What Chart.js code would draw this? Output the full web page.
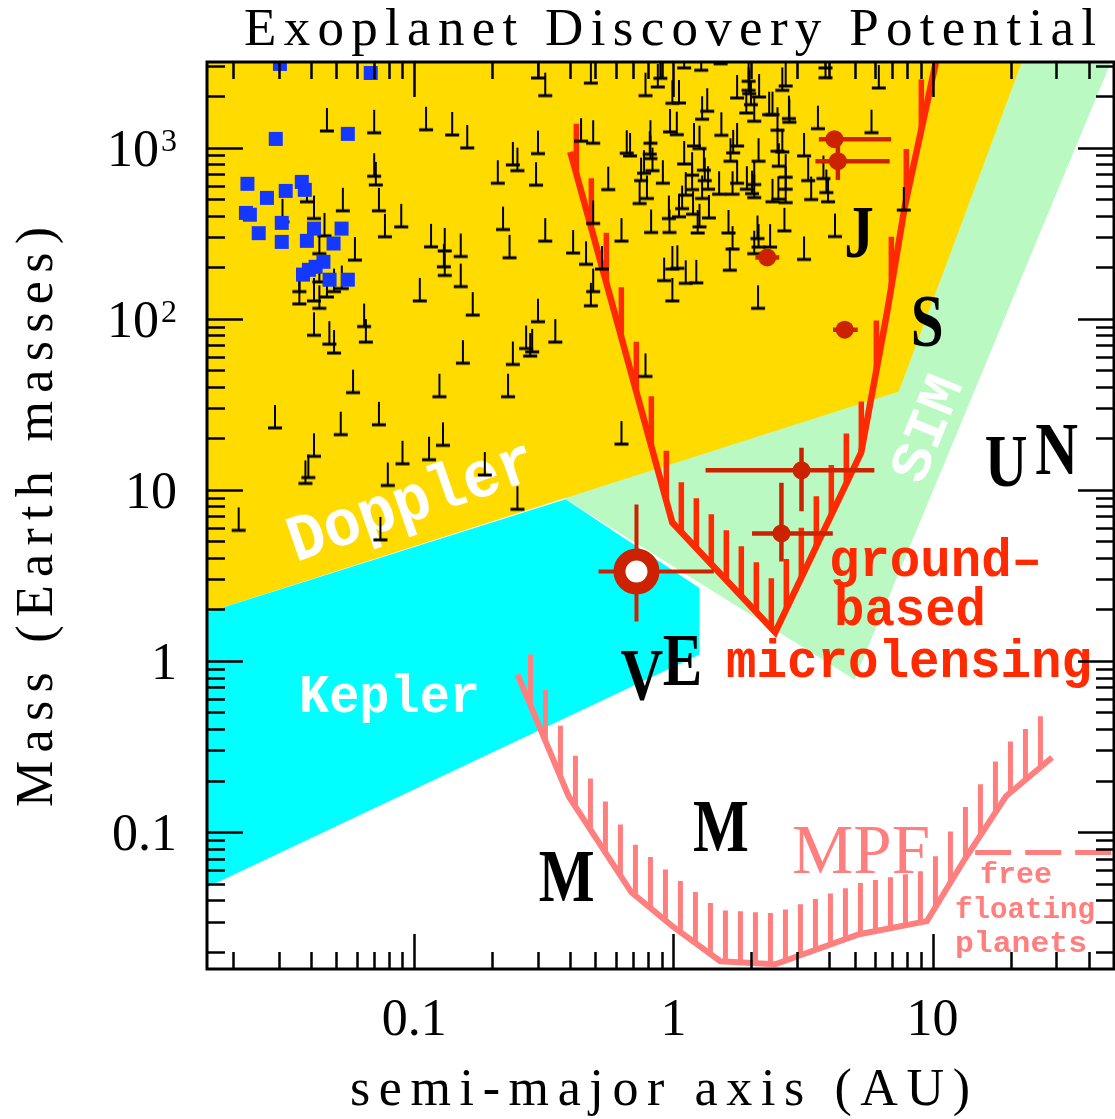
<!DOCTYPE html>
<html>
<head>
<meta charset="utf-8">
<title>Exoplanet Discovery Potential</title>
<script src="https://cdn.jsdelivr.net/npm/chart.js@4.4.1/dist/chart.umd.min.js"></script>
<style>
  html, body { margin: 0; padding: 0; background: #fff; }
  #wrap { position: relative; width: 1115px; height: 1119px; }
</style>
</head>
<body>
<div id="wrap"><canvas id="discovery" width="1115" height="1119"></canvas></div>
<script>
// ── Axes ──
const xRange = [0.01585, 50.12];
const yRange = [0.01585, 3162];
const xTickValues = [0.1, 1, 10];
const xTickLabels = ['0.1', '1', '10'];
const yTickValues = [0.1, 1, 10, 100, 1000];
const yTickLabels = ['0.1', '1', '10', '10', '10'];
const yTickPowers = ['', '', '', '2', '3'];

// ── Doppler planets (a in AU, M sin i in Earth masses) ──
const rvA = [
  0.046, 0.070, 0.111, 0.070, 0.071, 0.0385, 0.041, 0.053, 0.073, 0.089,
  0.077, 0.116, 0.031, 0.045, 0.043, 0.059, 0.036, 0.036, 0.041, 0.043,
  0.046, 0.049, 0.0525, 0.043, 0.105, 0.041, 0.047, 0.049, 0.064, 0.065,
  0.058, 0.029, 0.052, 0.073, 0.041, 0.039, 0.038, 0.079, 0.090, 0.114,
  0.125, 0.129, 0.021, 0.074, 0.168, 0.30, 0.48, 0.35, 0.27, 0.285,
  0.28, 0.154, 0.24, 0.23, 0.187, 0.25, 0.63, 0.78, 0.99, 0.30,
  0.32, 0.48, 0.78, 0.87, 0.89, 0.14, 0.16, 0.24, 0.25, 0.30,
  0.21, 0.295, 0.44, 0.49, 0.56, 0.66, 0.68, 0.815, 0.81, 0.815,
  0.77, 0.75, 0.83, 0.91, 0.79, 0.74, 0.97, 0.99, 0.22, 0.233,
  0.32, 0.41, 0.46, 0.49, 0.63, 0.53, 0.49, 0.82, 0.96, 0.965,
  0.92, 0.99, 0.131, 0.151, 0.130, 0.131, 0.151, 1.10, 1.28, 1.52,
  1.95, 1.95, 1.96, 2.14, 1.99, 1.91, 2.05, 1.76, 1.05, 1.35,
  1.29, 2.34, 2.41, 2.71, 2.63, 3.86, 3.86, 6.2, 2.79, 2.80,
  3.61, 5.81, 1.03, 1.53, 1.76, 1.20, 1.26, 1.70, 1.66, 2.13,
  2.52, 2.52, 2.63, 2.55, 3.19, 2.71, 2.71, 2.71, 3.31, 3.79,
  3.89, 3.95, 3.40, 2.41, 2.54, 1.92, 2.05, 2.01, 2.05, 1.76,
  1.69, 1.50, 1.31, 1.32, 1.36, 1.29, 1.37, 1.10, 1.18, 1.18,
  1.115, 1.08, 1.19, 1.05, 1.26, 1.24, 1.63, 1.69, 1.65, 2.11,
  2.13, 2.05, 2.36, 2.68, 3.19, 4.20, 1.035, 1.115, 1.225, 2.12,
  7.74
];
const rvM = [
  1250, 1220, 1270, 680, 605, 482, 385, 427, 427, 344,
  301, 263, 368, 305, 240, 220, 144, 122, 127, 115,
  134, 144, 150, 164, 127, 80, 71, 63, 90, 73,
  37, 23, 21, 24, 15.7, 11.8, 10.9, 10.6, 14.2, 15,
  35, 18.2, 5.8, 5.1, 105, 96, 119, 73, 67, 64,
  60.5, 55, 54, 35, 12.2, 7.7, 18.5, 46, 127, 2550,
  2010, 2380, 2010, 2260, 2540, 1185, 995, 792, 733, 922,
  619, 603, 1090, 1060, 568, 927, 894, 1060, 915, 862,
  708, 641, 733, 619, 504, 471, 1234, 1815, 332, 227,
  284, 242, 208, 360, 284, 195, 144, 319, 385, 319,
  167, 195, 249, 231, 201, 179, 154, 2920, 2830, 3090,
  2440, 2160, 2065, 1976, 1781, 1593, 1425, 1949, 1822, 1630,
  1464, 1557, 1557, 2290, 2160, 2920, 2560, 2230, 1476, 1406,
  1290, 1222, 1190, 1180, 1022, 1022, 986, 931, 832, 832,
  1263, 952, 943, 778, 894, 671, 571, 477, 641, 659,
  546, 482, 497, 482, 499, 571, 608, 538, 510, 619,
  534, 534, 737, 641, 571, 504, 388, 802, 690, 568,
  527, 440, 408, 394, 344, 317, 317, 255, 192, 294,
  262, 240, 262, 326, 222, 302, 197, 161, 162, 115,
  431
];

// ── Transiting planets ──
const transitA = [0.0303, 0.0679, 0.0292, 0.0554, 0.0227, 0.0270, 0.0319, 0.0368, 0.0378, 0.0224,
  0.0232, 0.0251, 0.0308, 0.0308, 0.0410, 0.0385, 0.0488, 0.0524, 0.0446, 0.0416,
  0.0392, 0.0372, 0.0471, 0.0554];
const transitM = [3080, 2727, 1123, 1202, 614, 508, 558, 630, 566, 415,
  405, 316, 363, 281, 336, 285, 275, 336, 215, 201,
  193, 181, 169, 169];

// ── Microlensing planets ──
const mlA = [4.18, 4.31, 2.30, 4.58, 3.12, 2.61];
const mlM = [1119, 832, 228, 86.2, 13.0, 5.56];
const mlALo = [3.64, 3.53, 2.07, 4.13, 1.33, 2.01];
const mlAHi = [6.92, 6.83, 2.56, 5.14, 5.96, 4.12];
const mlMLo = [null, 647, null, null, 7.5, 3.81];
const mlMHi = [null, 1070, null, null, 17.6, 11.0];

// lowest-mass microlensing planet (open symbol)
const coldA = [0.72];
const coldM = [3.33];
const coldALo = [0.514];
const coldAHi = [1.43];
const coldMLo = [1.70];
const coldMHi = [8.2];

// ── Solar system ──
const solarNames = ['M', 'V', 'E', 'M', 'J', 'S', 'U', 'N'];
const solarA = [0.387, 0.723, 1.0, 1.524, 5.20, 9.54, 19.2, 30.1];
const solarM = [0.055, 0.815, 1.0, 0.107, 318, 95.2, 14.5, 17.1];
const solarNudge = [0, 5, 9, 0, 0, 0, 0, 0];   // label shift, px

// ── Sensitivity regions ──
const dopplerRegionA = [0.01585, 7.4, 22.1, 0.01585];
const dopplerRegionM = [1.92, 37.5, 3162, 3162];
const keplerRegionA = [0.01585, 0.383, 1.26, 1.26, 0.01585];
const keplerRegionM = [1.92, 8.8, 2.67, 1.09, 0.0476];
const simRegionA = [0.383, 5.0, 48.8, 0.383];
const simRegionM = [8.8, 0.78, 3162, 3162];

// ── Microlensing sensitivity curves ──
const groundA = [0.40, 0.99, 2.47, 5.30, 6.68, 7.83, 10.3];
const groundM = [943, 6.44, 1.47, 16.5, 110, 463, 3162];
const mpfA = [0.250, 0.394, 0.688, 0.99, 1.517, 2.47, 5.21, 9.51, 13.3, 19.2, 28.9];
const mpfM = [0.834, 0.162, 0.0445, 0.0282, 0.0176, 0.0169, 0.0253, 0.0302, 0.0694, 0.162, 0.273];
const freeFloatA = [14.6, 50.12];
const freeFloatM = [0.076, 0.076];

// ── Colours ──
const YELLOW = '#ffdb00';
const CYAN = '#00ffff';
const GREEN = '#bbf9c3';
const SALMON = '#ff7f7f';
const RED = '#ff2a00';
const DARKRED = '#cc2200';
const BLUE = '#1438ff';
const SERIF = '"Liberation Serif", "DejaVu Serif", serif';
const MONO = '"Liberation Mono", "DejaVu Sans Mono", monospace';

const pts = (xs, ys) => xs.map((x, i) => ({ x, y: ys[i] }));

// ⊥ glyph: bar at the value, stem pointing up
function makeLimitGlyph() {
  const c = document.createElement('canvas');
  c.width = 16; c.height = 52;
  const g = c.getContext('2d');
  g.fillStyle = '#000';
  g.fillRect(1, 24.5, 14, 3);
  g.fillRect(7, 3, 2, 23);
  return c;
}

// ── Text helpers ──
function drawFitted(ctx, text, x, y, font, width, angle = 0, center = false) {
  ctx.save();
  ctx.font = font;
  const w0 = ctx.measureText(text).width;
  ctx.translate(x, y);
  ctx.rotate(angle);
  ctx.scale(width / w0, 1);
  ctx.textAlign = 'left';
  ctx.textBaseline = 'alphabetic';
  ctx.fillText(text, center ? -w0 / 2 : 0, 0);
  ctx.restore();
}

function drawSpaced(ctx, text, x, y, font, width, angle = 0) {
  ctx.save();
  ctx.font = font;
  ctx.textAlign = 'left';
  ctx.textBaseline = 'alphabetic';
  const chars = [...text];
  const ws = chars.map(ch => ctx.measureText(ch).width);
  const total = ws.reduce((s, w) => s + w, 0);
  const gap = (width - total) / (chars.length - 1);
  ctx.translate(x, y);
  ctx.rotate(angle);
  let cx = 0;
  chars.forEach((ch, i) => { ctx.fillText(ch, cx, 0); cx += ws[i] + gap; });
  ctx.restore();
}

function logTicks(min, max) {
  const out = [];
  for (let d = Math.floor(Math.log10(min)); d <= Math.ceil(Math.log10(max)); d++) {
    for (let k = 1; k <= 9; k++) {
      const v = k * Math.pow(10, d);
      if (v > min * 1.001 && v < max * 0.999) out.push({ v, major: k === 1 });
    }
  }
  return out;
}

const deg = Math.PI / 180;

// ── Plugin: hatching, error bars, labels, frame ──
const decorPlugin = {
  id: 'decor',
  beforeDatasetDraw(chart, args) {
    const ds = chart.data.datasets[args.index];
    if (!ds.errorBars) return;
    const { ctx, scales: { x, y } } = chart;
    const e = ds.errorBars;
    ctx.save();
    ctx.strokeStyle = e.color;
    ctx.lineWidth = e.width;
    ds.data.forEach((p, i) => {
      const px = x.getPixelForValue(p.x), py = y.getPixelForValue(p.y);
      ctx.beginPath();
      if (e.aLo[i] != null) {
        ctx.moveTo(x.getPixelForValue(e.aLo[i]), py);
        ctx.lineTo(x.getPixelForValue(e.aHi[i]), py);
      }
      if (e.mLo[i] != null) {
        ctx.moveTo(px, y.getPixelForValue(e.mLo[i]));
        ctx.lineTo(px, y.getPixelForValue(e.mHi[i]));
      }
      ctx.stroke();
    });
    ctx.restore();
  },
  afterDatasetDraw(chart, args) {
    const ds = chart.data.datasets[args.index];
    const { ctx, chartArea: area } = chart;
    if (ds.hatch) {
      const h = ds.hatch;
      const p = args.meta.data;
      ctx.save();
      ctx.beginPath();
      ctx.rect(area.left, area.top, area.right - area.left, area.bottom - area.top);
      ctx.clip();
      ctx.strokeStyle = ds.borderColor;
      ctx.lineWidth = h.width;
      ctx.beginPath();
      let xh = p[0].x + h.offset;
      for (let i = 0; i < p.length - 1; i++) {
        const a = p[i], b = p[i + 1];
        while (xh <= b.x) {
          const yy = a.y + (xh - a.x) / (b.x - a.x) * (b.y - a.y);
          ctx.moveTo(xh, yy);
          ctx.lineTo(xh, yy - h.length);
          xh += h.spacing;
        }
      }
      ctx.stroke();
      ctx.restore();
    }
    if (ds.regionLabels) {
      ctx.save();
      ctx.beginPath();
      ctx.rect(area.left, area.top, area.right - area.left, area.bottom - area.top);
      ctx.clip();
      ctx.fillStyle = '#fff';
      drawFitted(ctx, 'Doppler', 296, 562, 'bold 66px ' + MONO, 258, -19.2 * deg);
      drawFitted(ctx, 'Kepler', 299, 712, 'bold 54px ' + MONO, 181);
      drawFitted(ctx, 'SIM', 922, 486, 'bold 56px ' + MONO, 110, -68 * deg);
      ctx.restore();
    }
  },
  afterDatasetsDraw(chart) {
    const { ctx, chartArea: area, scales: { x, y } } = chart;

    // planet letters
    ctx.save();
    ctx.fillStyle = '#000';
    solarNames.forEach((n, i) => {
      const px = x.getPixelForValue(solarA[i]) + solarNudge[i];
      const py = y.getPixelForValue(solarM[i]);
      ctx.save();
      ctx.font = 'bold 74px ' + SERIF;
      const w = ctx.measureText(n).width;
      ctx.translate(px, py + 24);
      ctx.scale(0.8, 1);
      ctx.fillText(n, -w / 2, 0);
      ctx.restore();
    });

    // annotations
    ctx.fillStyle = RED;
    drawFitted(ctx, 'ground\u2013', 829, 576, 'bold 54px ' + MONO, 213);
    drawFitted(ctx, 'based', 834, 625, 'bold 54px ' + MONO, 152);
    drawFitted(ctx, 'microlensing', 726, 677, 'bold 54px ' + MONO, 366);
    ctx.fillStyle = SALMON;
    drawFitted(ctx, 'MPF', 792, 873, '70px ' + SERIF, 138);
    drawFitted(ctx, 'free', 980, 883, 'bold 30px ' + MONO, 72);
    drawFitted(ctx, 'floating', 955, 918, 'bold 30px ' + MONO, 140);
    drawFitted(ctx, 'planets', 955, 952, 'bold 30px ' + MONO, 132);
    ctx.restore();

    // frame and inward ticks on all four sides
    ctx.save();
    ctx.strokeStyle = '#000';
    ctx.lineWidth = 2.5;
    ctx.beginPath();
    logTicks(xRange[0], xRange[1]).forEach(t => {
      const px = Math.round(x.getPixelForValue(t.v)) + 0.5;
      const len = t.major ? 35 : 17;
      ctx.moveTo(px, area.bottom); ctx.lineTo(px, area.bottom - len);
      ctx.moveTo(px, area.top); ctx.lineTo(px, area.top + len);
    });
    logTicks(yRange[0], yRange[1]).forEach(t => {
      const py = Math.round(y.getPixelForValue(t.v)) + 0.5;
      const len = t.major ? 36 : 18;
      ctx.moveTo(area.left, py); ctx.lineTo(area.left + len, py);
      ctx.moveTo(area.right, py); ctx.lineTo(area.right - len, py);
    });
    ctx.stroke();
    ctx.lineWidth = 3;
    ctx.strokeRect(area.left, area.top, area.right - area.left, area.bottom - area.top);

    // tick labels
    ctx.fillStyle = '#000';
    ctx.font = '52px ' + SERIF;
    ctx.textAlign = 'center';
    ctx.textBaseline = 'alphabetic';
    xTickValues.forEach((v, i) => {
      ctx.fillText(xTickLabels[i], x.getPixelForValue(v), 1035);
    });
    yTickValues.forEach((v, i) => {
      const py = y.getPixelForValue(v);
      let right = 177;
      ctx.textAlign = 'right';
      if (yTickPowers[i]) {
        ctx.font = '32px ' + SERIF;
        ctx.fillText(yTickPowers[i], right, py + 3);
        right -= ctx.measureText(yTickPowers[i]).width + 2;
      }
      ctx.font = '52px ' + SERIF;
      ctx.fillText(yTickLabels[i], right, py + 18);
    });

    // titles
    drawSpaced(ctx, 'Exoplanet Discovery Potential', 244, 45, '53px ' + SERIF, 852);
    drawSpaced(ctx, 'semi-major axis (AU)', 350, 1105, '52px ' + SERIF, 620);
    drawSpaced(ctx, 'Mass (Earth masses)', 52, 807, '52px ' + SERIF, 580, -90 * deg);
    ctx.restore();
  }
};

// ── Chart ──
const polygon = (xs, ys, color, order, extra = {}) => Object.assign({
  type: 'line', data: pts(xs, ys), fill: 'shape', backgroundColor: color,
  borderColor: 'rgba(0,0,0,0)', borderWidth: 0, pointRadius: 0, tension: 0, order, clip: 0
}, extra);

new Chart(document.getElementById('discovery'), {
  type: 'scatter',
  data: {
    datasets: [
      polygon(simRegionA, simRegionM, GREEN, 20),
      polygon(dopplerRegionA, dopplerRegionM, YELLOW, 19),
      polygon(keplerRegionA, keplerRegionM, CYAN, 18, { regionLabels: true }),
      {
        type: 'line', data: pts(mpfA, mpfM), borderColor: SALMON, borderWidth: 6,
        pointRadius: 0, fill: false, tension: 0, order: 17, clip: 0,
        hatch: { spacing: 15, offset: 13, length: 51, width: 5 }
      },
      {
        type: 'line', data: pts(freeFloatA, freeFloatM), borderColor: SALMON, borderWidth: 5,
        borderDash: [36, 14], pointRadius: 0, fill: false, order: 17, clip: 0
      },
      {
        type: 'line', data: pts(groundA, groundM), borderColor: RED, borderWidth: 6.5,
        pointRadius: 0, fill: false, tension: 0, order: 16, clip: 0,
        hatch: { spacing: 15, offset: 6, length: 50, width: 5.5 }
      },
      {
        data: pts(rvA, rvM), pointStyle: makeLimitGlyph(), pointRadius: 10, order: 15, clip: 0
      },
      {
        data: pts(transitA, transitM), pointStyle: 'rect', pointRadius: 9.9,
        backgroundColor: BLUE, borderWidth: 0, order: 14, clip: 0
      },
      {
        data: pts(mlA, mlM), pointRadius: 9, backgroundColor: DARKRED, borderWidth: 0, order: 13, clip: 0,
        errorBars: { aLo: mlALo, aHi: mlAHi, mLo: mlMLo, mHi: mlMHi, color: DARKRED, width: 4.5 }
      },
      {
        data: pts(coldA, coldM), pointRadius: 17, backgroundColor: '#fff', borderColor: DARKRED,
        borderWidth: 12, order: 12, clip: 0,
        errorBars: { aLo: coldALo, aHi: coldAHi, mLo: coldMLo, mHi: coldMHi, color: DARKRED, width: 4 }
      }
    ]
  },
  options: {
    responsive: false,
    animation: false,
    events: [],
    layout: { autoPadding: false, padding: { top: 62, right: 1, bottom: 0, left: 0 } },
    plugins: { legend: { display: false }, tooltip: { enabled: false }, title: { display: false } },
    scales: {
      x: {
        type: 'logarithmic', min: xRange[0], max: xRange[1],
        grid: { display: false }, border: { display: false }, ticks: { display: false },
        afterFit: s => { s.height = 150; }
      },
      y: {
        type: 'logarithmic', min: yRange[0], max: yRange[1],
        grid: { display: false }, border: { display: false }, ticks: { display: false },
        afterFit: s => { s.width = 207; }
      }
    }
  },
  plugins: [decorPlugin]
});
</script>
</body>
</html>
